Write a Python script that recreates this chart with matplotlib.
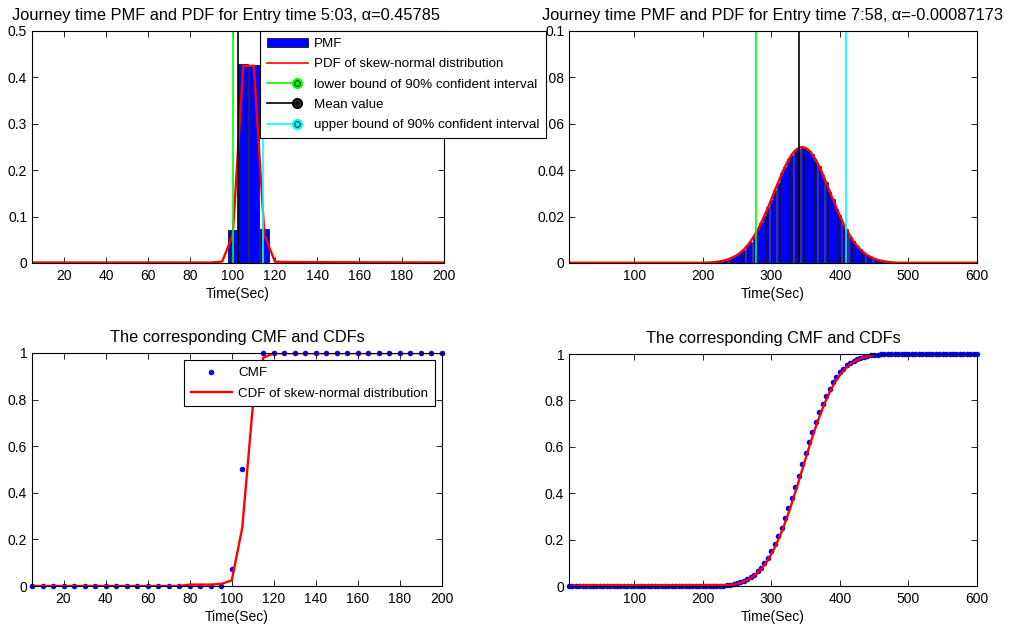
import numpy as np
import matplotlib
matplotlib.use('Agg')
import matplotlib.pyplot as plt
from matplotlib.lines import Line2D
from matplotlib.patches import Patch
from matplotlib.legend_handler import HandlerBase
from matplotlib.ticker import FuncFormatter

plt.rcParams['font.family'] = ['Liberation Sans', 'DejaVu Sans']

# ---- entry time 5:03 ----
pmf1_x = [100, 105, 110, 115]
pmf1 = [0.072, 0.428, 0.427, 0.073]
pdf1_x = [5, 90, 95, 100, 105, 110, 115, 120, 125, 200]
pdf1 = [0.001, 0.001, 0.003, 0.06, 0.425, 0.425, 0.06, 0.003, 0.002, 0.001]
cdf1_x = [5, 75, 80, 90, 95, 100, 105, 110, 115, 120, 200]
cdf1 = [0.0, 0.0, 0.006, 0.006, 0.009, 0.024, 0.25, 0.77, 0.98, 0.999, 1.0]
bounds1 = [100, 102.5, 114.5]   # lower, mean, upper
grid1 = np.arange(5, 205, 5)

# ---- entry time 7:58 ----
grid2 = np.arange(5, 605, 5)
pmf2_mid = [0.0005, 0.0007, 0.0010, 0.0014, 0.0019, 0.0026, 0.0034, 0.0046, 0.0057, 0.0076,
            0.0092, 0.0118, 0.0141, 0.0173, 0.0201, 0.0240, 0.0271, 0.0314, 0.0345, 0.0386,
            0.0412, 0.0447, 0.0464, 0.0489, 0.0493, 0.0502, 0.0494, 0.0482, 0.0471, 0.0440,
            0.0418, 0.0380, 0.0351, 0.0305, 0.0278, 0.0233, 0.0207, 0.0168, 0.0145, 0.0113,
            0.0096, 0.0073, 0.0060, 0.0044, 0.0035, 0.0025, 0.0019, 0.0013, 0.0010, 0.0007,
            0.0005, 0.0003, 0.0002]          # 220 .. 480
pdf2_mid = [0.0001, 0.00015, 0.0002, 0.0003, 0.0005, 0.0007, 0.0010, 0.0014, 0.0019, 0.0026,
            0.0034, 0.0045, 0.0058, 0.0075, 0.0094, 0.0117, 0.0142, 0.0171, 0.0204, 0.0238,
            0.0274, 0.0311, 0.0347, 0.0383, 0.0415, 0.0444, 0.0468, 0.0485, 0.0496, 0.0500,
            0.0496, 0.0485, 0.0468, 0.0444, 0.0415, 0.0383, 0.0347, 0.0311, 0.0274, 0.0238,
            0.0204, 0.0171, 0.0142, 0.0117, 0.0094, 0.0075, 0.0058, 0.0045, 0.0034, 0.0026,
            0.0019, 0.0014, 0.0010, 0.0007, 0.0005, 0.0003, 0.0002]   # 200 .. 480
cdf2_x = [5, 18, 22, 237, 247, 257, 267, 277, 287, 297, 307, 317, 327, 337, 347, 357,
          367, 377, 387, 397, 407, 417, 427, 437, 447]
cdf2 = [0.0, 0.0, 0.003, 0.004, 0.0084, 0.0159, 0.0286, 0.0486, 0.0786, 0.1208, 0.177, 0.2473,
        0.3303, 0.4227, 0.5195, 0.6152, 0.7044, 0.7823, 0.8471, 0.8976, 0.9347, 0.9605,
        0.9772, 0.9876, 0.9936]
bounds2 = [278, 340, 409]

pmf2 = np.zeros(len(grid2))
pmf2[(grid2 >= 220) & (grid2 <= 480)] = pmf2_mid
pdf2 = np.full(len(grid2), 0.0001)
pdf2[(grid2 >= 200) & (grid2 <= 480)] = pdf2_mid

pmf1_full = np.zeros(len(grid1))
for xv, v in zip(pmf1_x, pmf1):
    pmf1_full[grid1 == xv] = v
cmf1 = np.cumsum(pmf1_full) / pmf1_full.sum()
cmf2 = np.cumsum(pmf2) / pmf2.sum()

GREEN = (0, 1, 0)
CYAN = (0, 1, 1)
FS = 10
LFS = 9.6
TFS = 11.8


class StemHandler(HandlerBase):
    def create_artists(self, legend, orig_handle, xdescent, ydescent, width, height, fontsize, trans):
        c = orig_handle.get_color()
        y = height / 2 - ydescent
        x0 = -xdescent
        xm = x0 + width * 0.74
        line = Line2D([x0, xm], [y, y], color=c, lw=1.2, transform=trans)
        dot = Line2D([xm], [y], marker='o', ms=7, mfc=c, mec=c, transform=trans)
        ring = Line2D([xm], [y], marker='o', ms=4, mfc='none', mec='0.2', mew=0.8, transform=trans)
        return [line, dot, ring]


W, H = 1010, 626
fig = plt.figure(figsize=(10.1, 6.26), dpi=100)


def add_axes(l, t, r, b):
    return fig.add_axes([l / W, 1 - b / H, (r - l) / W, (b - t) / H])


def style(ax):
    ax.tick_params(direction='in', top=True, right=True, length=4, width=0.6,
                   labelsize=FS)
    ax.tick_params(axis='x', pad=4.5)
    ax.tick_params(axis='y', pad=3.5)
    for s in ax.spines.values():
        s.set_linewidth(0.8)
    ax.yaxis.set_major_formatter(FuncFormatter(lambda v, p: '%g' % v))
    ax.set_xlabel('Time(Sec)', fontsize=FS, labelpad=3)


ax1 = add_axes(32, 31, 444, 263)
ax2 = add_axes(569, 31, 977, 263)
ax3 = add_axes(32, 353, 442, 586)
ax4 = add_axes(569, 354, 977, 586)
ax1.set_zorder(3)   # legend of the first plot sits over the neighbour's tick labels

# top left
ax1.bar(pmf1_x, pmf1, width=4.6, color='b', edgecolor='k', lw=0.5)
ax1.plot(pdf1_x, pdf1, color='r', lw=1.7)
for xv, c in zip(bounds1, [GREEN, 'k', CYAN]):
    ax1.axvline(xv, color=c, lw=1.2)
ax1.set_xlim(5, 200)
ax1.set_ylim(0, 0.5)
ax1.set_xticks(np.arange(20, 201, 20))
ax1.set_yticks(np.arange(0, 0.51, 0.1))
style(ax1)
ax1.set_title('Journey time PMF and PDF for Entry time 5:03, α=0.45785', fontsize=TFS, pad=8,
              x=0.472)

handles = [Patch(facecolor='b', edgecolor='k', lw=0.5),
           Line2D([], [], color='r', lw=1.2),
           Line2D([], [], color=GREEN), Line2D([], [], color='k'), Line2D([], [], color=CYAN)]
labels = ['PMF', 'PDF of skew-normal distribution', 'lower bound of 90% confident interval',
          'Mean value', 'upper bound of 90% confident interval']
leg = ax1.legend(handles, labels, loc='upper left', bbox_to_anchor=(0.553, 1.0), borderaxespad=0,
                 fontsize=LFS, handlelength=3.1, handletextpad=0.45, labelspacing=0.6,
                 fancybox=False, framealpha=1, edgecolor='k', borderpad=0.5,
                 handler_map={handles[2]: StemHandler(), handles[3]: StemHandler(),
                              handles[4]: StemHandler()})
leg.get_frame().set_linewidth(0.8)
leg.set_zorder(10)

# top right
ax2.bar(grid2, pmf2, width=4.6, color='b', edgecolor='k', lw=0.4)
ax2.plot(grid2, pdf2, color='r', lw=1.7)
for xv, c in zip(bounds2, [GREEN, 'k', CYAN]):
    ax2.axvline(xv, color=c, lw=1.2)
ax2.set_xlim(5, 600)
ax2.set_ylim(0, 0.1)
ax2.set_xticks(np.arange(100, 601, 100))
ax2.set_yticks(np.arange(0, 0.101, 0.02))
style(ax2)
ax2.set_title('Journey time PMF and PDF for Entry time 7:58, α=-0.00087173', fontsize=TFS, pad=8)

# bottom left
ax3.plot(grid1, cmf1, 'o', color='b', ms=4, mew=0, clip_on=False, label='CMF')
ax3.plot(cdf1_x, cdf1, color='r', lw=1.7, label='CDF of skew-normal distribution')
ax3.set_xlim(5, 200)
ax3.set_ylim(0, 1)
ax3.set_xticks(np.arange(20, 201, 20))
ax3.set_yticks(np.arange(0, 1.01, 0.2))
style(ax3)
ax3.set_title('The corresponding CMF and CDFs', fontsize=TFS, pad=8)
leg3 = ax3.legend(loc='upper right', borderaxespad=0.55, fontsize=LFS, handlelength=3.1,
                  handletextpad=0.45, labelspacing=0.6, fancybox=False, framealpha=1,
                  edgecolor='k', borderpad=0.5)
leg3.get_frame().set_linewidth(0.8)

# bottom right
ax4.plot(grid2, cmf2, 'o', color='b', ms=4, mew=0, clip_on=False)
ax4.plot(cdf2_x, cdf2, color='r', lw=1.7)
ax4.set_xlim(5, 600)
ax4.set_ylim(0, 1)
ax4.set_xticks(np.arange(100, 601, 100))
ax4.set_yticks(np.arange(0, 1.01, 0.2))
style(ax4)
ax4.set_title('The corresponding CMF and CDFs', fontsize=TFS, pad=8)

fig.savefig('out.png', dpi=100)
